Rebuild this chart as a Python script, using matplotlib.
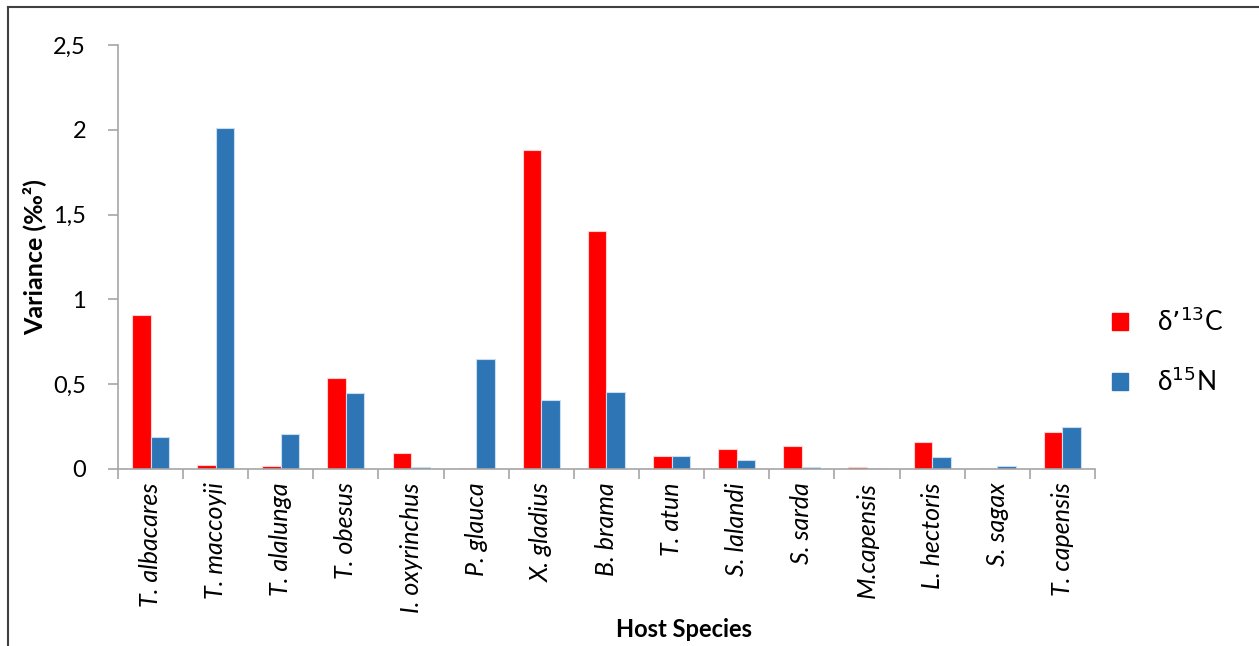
import matplotlib.pyplot as plt
import matplotlib.lines as mlines
import matplotlib.patches as mpatches
import numpy as np

species = ["T. albacares", "T. maccoyii", "T. alalunga", "T. obesus", "I. oxyrinchus",
           "P. glauca", "X. gladius", "B. brama", "T. atun", "S. lalandi",
           "S. sarda", "M.capensis", "L. hectoris", "S. sagax", "T. capensis"]
var_c13 = [0.91, 0.025, 0.02, 0.537, 0.094, 0.005, 1.88, 1.403, 0.077, 0.118,
           0.136, 0.01, 0.16, 0.005, 0.218]
var_n15 = [0.19, 2.01, 0.205, 0.448, 0.01, 0.65, 0.407, 0.454, 0.075, 0.053,
           0.013, 0.005, 0.07, 0.017, 0.247]
yticks = [0, 0.5, 1, 1.5, 2, 2.5]
ytick_labels = ["0", "0,5", "1", "1,5", "2", "2,5"]

plt.rcParams['font.family'] = ['Lato', 'DejaVu Sans']

fig = plt.figure(figsize=(12.59, 6.46), dpi=100)
ax = fig.add_axes([0.0937, 0.274, 0.776, 0.656])

x = np.arange(len(species))
w = 0.285
ax.bar(x - w / 2, var_c13, w, color="#FF0000", edgecolor="#FFD0D0", linewidth=0.8)
ax.bar(x + w / 2, var_n15, w, color="#2E75B6", edgecolor="#C8DDF0", linewidth=0.8)

ax.set_xlim(-0.5, len(species) - 0.5)
ax.set_ylim(0, 2.5)
ax.set_yticks(yticks)
ax.set_yticklabels(ytick_labels, fontsize=17)

# tick marks at the group boundaries, names centred under each group
ax.set_xticks(np.append(x - 0.5, len(species) - 0.5))
ax.set_xticklabels([])
ax.tick_params(axis="x", length=7, color="#A6A6A6", width=1.2)
ax.tick_params(axis="y", length=7, color="#A6A6A6", width=1.2, pad=16)
for xi, name in zip(x, species):
    ax.text(xi, -0.031, name, transform=ax.get_xaxis_transform(), rotation=90,
            style="italic", fontsize=18, ha="center", va="top")

for s in ["top", "right"]:
    ax.spines[s].set_visible(False)
for s in ["left", "bottom"]:
    ax.spines[s].set_color("#A6A6A6")
    ax.spines[s].set_linewidth(1.2)

ax.set_ylabel("Variance (‰²)", fontsize=18, fontweight="bold", labelpad=5)
fig.text(0.5436, 0.025, "Host Species", fontsize=17, fontweight="bold",
         ha="center", va="center")

handles = [mpatches.Patch(color="#FF0000"), mpatches.Patch(color="#2E75B6")]
fig.legend(handles, [r"δ’$^{13}$C", r"δ$^{15}$N"], loc="center left",
           bbox_to_anchor=(0.8645, 0.456), frameon=False, fontsize=19,
           handlelength=0.6, handleheight=0.6, handletextpad=1.1, labelspacing=1.2)

# outer frame, clipped at the right and bottom edges
fig.add_artist(mlines.Line2D([0.0062, 0.0062], [0, 0.989], color="#404040", lw=1.5))
fig.add_artist(mlines.Line2D([0.0062, 1], [0.989, 0.989], color="#404040", lw=1.5))

fig.savefig("out.png", dpi=100)
